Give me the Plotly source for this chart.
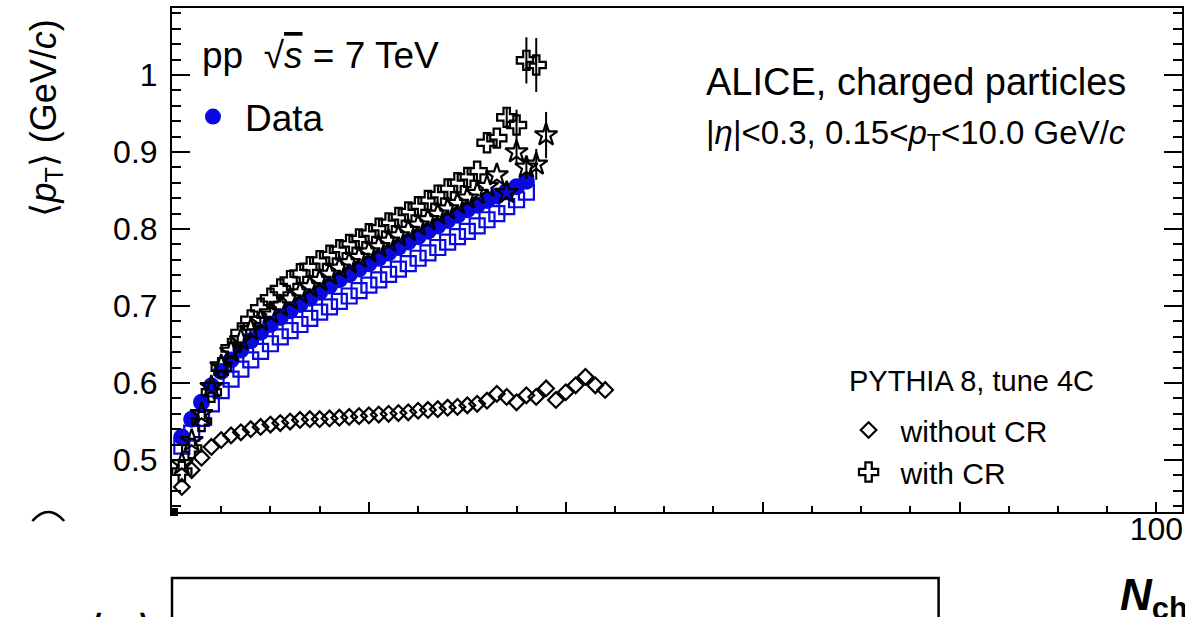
import plotly.graph_objects as go

# ---------------- data ----------------
n_without = list(range(1, 45))
pythia_without_cr = [0.465, 0.487, 0.503, 0.517, 0.526, 0.532, 0.536, 0.540, 0.543, 0.546,
                     0.548, 0.550, 0.552, 0.553, 0.553, 0.554, 0.555, 0.556, 0.557, 0.558,
                     0.559, 0.560, 0.561, 0.562, 0.564, 0.565, 0.566, 0.568, 0.569, 0.571,
                     0.573, 0.577, 0.586, 0.582, 0.575, 0.584, 0.582, 0.593, 0.578, 0.588,
                     0.597, 0.608, 0.597, 0.591]

n_with = list(range(1, 38))
pythia_with_cr = [0.485, 0.515, 0.550, 0.588, 0.620, 0.645, 0.665, 0.682, 0.697, 0.710,
                  0.722, 0.733, 0.742, 0.751, 0.759, 0.766, 0.773, 0.780, 0.787, 0.794,
                  0.801, 0.808, 0.815, 0.822, 0.829, 0.837, 0.844, 0.852, 0.860, 0.867,
                  0.875, 0.912, 0.918, 0.945, 0.935, 1.019, 1.013]
pythia_with_cr_err = [0]*33 + [0.012, 0.02, 0.03, 0.035]

n_data = list(range(1, 37))
data_mean_pt = [0.530, 0.553, 0.575, 0.596, 0.615, 0.630, 0.643, 0.655, 0.666, 0.676,
                0.685, 0.694, 0.702, 0.710, 0.718, 0.726, 0.734, 0.741, 0.748, 0.755,
                0.762, 0.769, 0.776, 0.783, 0.790, 0.797, 0.804, 0.811, 0.818, 0.825,
                0.831, 0.837, 0.843, 0.849, 0.855, 0.862]

n_squares = list(range(1, 37))
squares_mean_pt = [0.518, 0.535, 0.554, 0.573, 0.590, 0.605, 0.618, 0.630, 0.641, 0.651,
                   0.660, 0.668, 0.676, 0.684, 0.692, 0.699, 0.706, 0.713, 0.720, 0.727,
                   0.734, 0.741, 0.748, 0.755, 0.762, 0.769, 0.776, 0.783, 0.790, 0.797,
                   0.804, 0.812, 0.820, 0.829, 0.838, 0.848]

n_stars = list(range(1, 39))
stars_mean_pt = [0.495, 0.525, 0.560, 0.595, 0.622, 0.641, 0.656, 0.669, 0.681, 0.691,
                 0.700, 0.709, 0.717, 0.725, 0.733, 0.741, 0.749, 0.756, 0.763, 0.770,
                 0.777, 0.784, 0.791, 0.798, 0.805, 0.812, 0.819, 0.826, 0.833, 0.840,
                 0.846, 0.855, 0.870, 0.847, 0.900, 0.880, 0.884, 0.922]
stars_err = [0]*34 + [0.015, 0.015, 0.02, 0.03]

x_tick_vals = [0, 20, 40, 60, 80, 100]
x_tick_text = ["", "", "", "", "", "100"]
y_tick_vals = [0.5, 0.6, 0.7, 0.8, 0.9, 1.0]
y_tick_text = ["0.5", "0.6", "0.7", "0.8", "0.9", "1"]

# ---------------- figure ----------------
FONT = "Liberation Sans, Arial, Helvetica, sans-serif"
BLUE = "#0a0ae0"

fig = go.Figure()

fig.add_trace(go.Scatter(
    x=n_without, y=pythia_without_cr, mode="markers", name="without CR",
    legend="legend2", legendgroup="a",
    marker=dict(symbol="diamond-open", size=12, color="black", line=dict(width=2.2, color="black")),
))
fig.add_trace(go.Scatter(
    x=n_squares, y=squares_mean_pt, mode="markers", showlegend=False,
    marker=dict(symbol="square-open", size=15, color=BLUE, line=dict(width=2.2, color=BLUE)),
))
fig.add_trace(go.Scatter(
    x=n_data, y=data_mean_pt, mode="markers", name="Data", legend="legend",
    marker=dict(symbol="circle", size=17, color=BLUE, line=dict(width=0)),
))
fig.add_trace(go.Scatter(
    x=n_stars, y=stars_mean_pt, mode="markers", showlegend=False,
    error_y=dict(type="data", array=stars_err, color="black", thickness=2, width=0),
    marker=dict(symbol="star-open", size=17, color="black", line=dict(width=2.2, color="black")),
))
fig.add_trace(go.Scatter(
    x=n_with, y=pythia_with_cr, mode="markers", name="with CR",
    legend="legend2", legendgroup="b",
    error_y=dict(type="data", array=pythia_with_cr_err, color="black", thickness=2, width=0),
    marker=dict(symbol="cross-open", size=16, color="black", line=dict(width=2.2, color="black")),
))

fig.update_layout(
    width=1185, height=617,
    margin=dict(l=172, r=1, t=8, b=105),
    paper_bgcolor="white", plot_bgcolor="white",
    font=dict(family=FONT, color="black"),
    legend=dict(x=0.0089, y=0.7837, xanchor="left", yanchor="middle",
                font=dict(size=37, family=FONT), bgcolor="rgba(0,0,0,0)",
                itemsizing="trace", itemwidth=54),
    legend2=dict(x=0.658, y=0.121, xanchor="left", yanchor="middle",
                 font=dict(size=30, family=FONT), bgcolor="rgba(0,0,0,0)",
                 tracegroupgap=0, traceorder="grouped", itemsizing="trace", itemwidth=54),
    xaxis=dict(range=[0, 102.6], showgrid=False, zeroline=False,
               showline=True, linecolor="black", linewidth=2, mirror=True,
               ticks="inside", ticklen=10, tickwidth=2, tickcolor="black",
               tickvals=x_tick_vals, ticktext=x_tick_text, ticklabelstandoff=-12,
               tickfont=dict(size=32, family=FONT, color="black"),
               minor=dict(dtick=5, ticks="inside", ticklen=6, tickwidth=1.5, tickcolor="black")),
    yaxis=dict(range=[0.4325, 1.087], showgrid=False, zeroline=False,
               showline=True, linecolor="black", linewidth=2, mirror="ticks",
               ticks="inside", ticklen=18, tickwidth=2, tickcolor="black",
               tickvals=y_tick_vals, ticktext=y_tick_text, ticklabelstandoff=6,
               tickfont=dict(size=32, family=FONT, color="black"),
               minor=dict(dtick=0.02, ticks="inside", ticklen=9, tickwidth=1.5, tickcolor="black")),
)

annotations = [
    dict(x=0.0277, y=0.9067, xanchor="left", yanchor="middle",
         text="pp  \u221a<span style='text-decoration:overline'><i>s</i></span> = 7 TeV",
         font=dict(size=37)),
    dict(x=0.5267, y=0.853, xanchor="left", yanchor="middle",
         text="ALICE, charged particles", font=dict(size=38)),
    dict(x=0.5267, y=0.748, xanchor="left", yanchor="middle",
         text="|<i>\u03b7</i>|&lt;0.3, 0.15&lt;<i>p</i><sub>T</sub>&lt;10.0 GeV/<i>c</i>",
         font=dict(size=33)),
    dict(x=0.668, y=0.26, xanchor="left", yanchor="middle",
         text="PYTHIA 8, tune 4C", font=dict(size=29)),
    dict(x=-0.125, y=0.782, xanchor="center", yanchor="middle", textangle=-90,
         text="\u27e8<i>p</i><sub>T</sub>\u27e9 (GeV/<i>c</i>)", font=dict(size=36)),
    dict(x=0.937, y=-0.171, xanchor="left", yanchor="middle",
         text="<b><i>N</i></b><sub><b>ch</b></sub>", font=dict(size=44)),
    dict(x=-0.051, y=-0.1865, xanchor="center", yanchor="top",
         text="<b>\u27e8<i>p</i><sub>T</sub>\u27e9</b>", font=dict(size=34)),
]
for a in annotations:
    a.update(xref="paper", yref="paper", showarrow=False)
    fig.add_annotation(**a)

# lower panel frame (partially visible)
fig.add_shape(type="path", xref="paper", yref="paper",
              path="M 0 -0.26 L 0 -0.131 L 0.759 -0.131 L 0.759 -0.26",
              line=dict(color="black", width=2.5))
# small cut-off arc at the lower left
fig.add_shape(type="path", xref="paper", yref="paper",
              path="M -0.1383 -0.0179 Q -0.1225 0.0179 -0.1067 -0.0179",
              line=dict(color="black", width=2.5))
# small filled square at the axes origin
fig.add_shape(type="rect", xref="paper", yref="paper",
              x0=-0.002, x1=0.0059, y0=-0.0079, y1=0.0079,
              line=dict(width=0), fillcolor="black")

fig.write_html("out.html")
